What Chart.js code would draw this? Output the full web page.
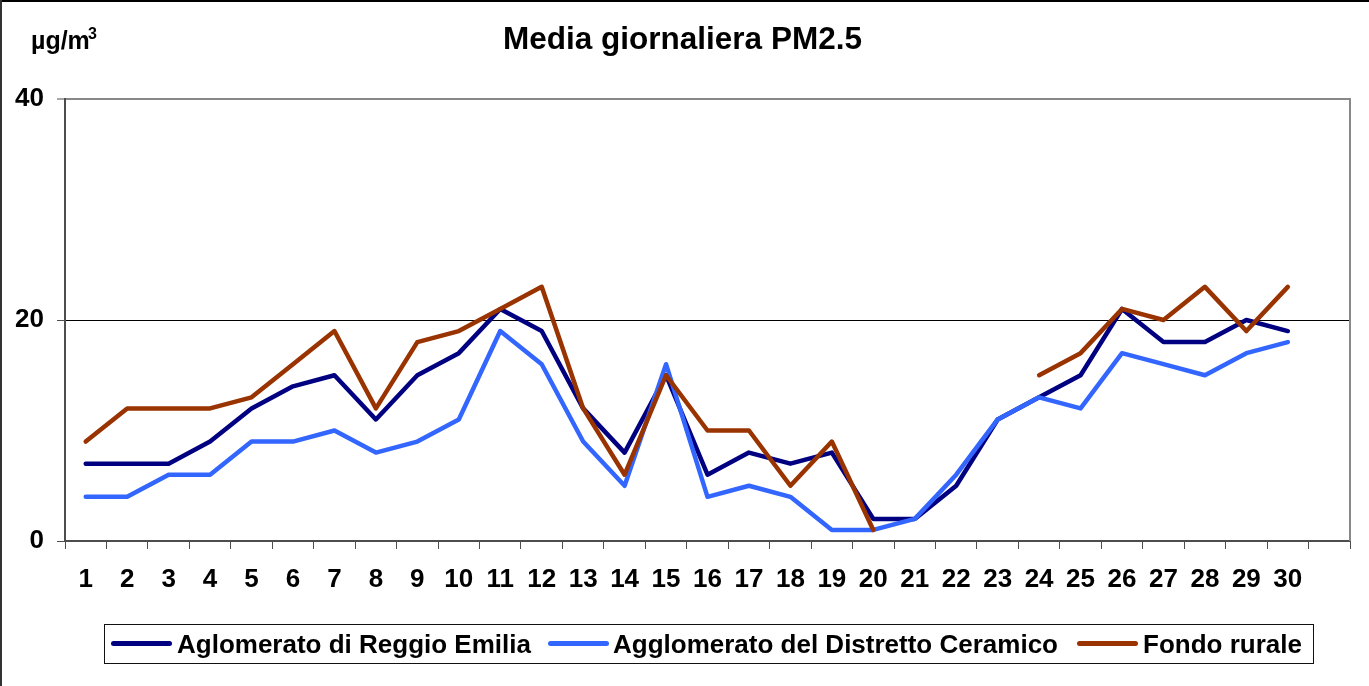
<!DOCTYPE html>
<html>
<head>
<meta charset="utf-8">
<script src="https://cdn.jsdelivr.net/npm/chart.js@4/dist/chart.umd.min.js"></script>
<style>
  html, body { margin: 0; padding: 0; background: #fff; }
  body { width: 1369px; height: 686px; position: relative; overflow: hidden; font-family: "Liberation Sans", Arial, sans-serif; }
  #c { position: absolute; left: 0; top: 0; }
  .txt { position: absolute; font-weight: bold; color: #000; white-space: nowrap; }
  .sample { position: absolute; height: 5px; border-radius: 2.5px; }
</style>
</head>
<body>
<canvas id="c" width="1369" height="686"></canvas>
<div style="position:absolute;left:0;top:0;width:1369px;height:2px;background:#000;"></div>
<div style="position:absolute;left:0;top:0;width:2px;height:686px;background:#333;"></div>
<div class="txt" id="title" style="left:0;width:1365px;text-align:center;top:22.6px;font-size:31.5px;line-height:31.5px;">Media giornaliera PM2.5</div>
<div class="txt" style="left:31px;top:28px;font-size:25px;line-height:25px;">µg/m</div>
<div class="txt" style="left:88px;top:26px;font-size:16px;line-height:16px;">3</div>
<div id="legend" style="position:absolute;left:104px;top:624px;width:1208px;height:38px;border:1px solid #111;"></div>
<div id="legendItems"></div>
<script>
// ---- data ----
const categories = ['1','2','3','4','5','6','7','8','9','10','11','12','13','14','15','16','17','18','19','20','21','22','23','24','25','26','27','28','29','30',''];
const seriesNames = ['Aglomerato di Reggio Emilia', 'Agglomerato del Distretto Ceramico', 'Fondo rurale'];
const reggio   = [7,7,7,9,12,14,15,11,15,17,21,19,12,8,15,6,8,7,8,2,2,5,11,13,15,21,18,18,20,19];
const ceramico = [4,4,6,6,9,9,10,8,9,11,19,16,9,5,16,4,5,4,1,1,2,6,11,13,12,17,16,15,17,18];
const rurale   = [9,12,12,12,13,16,19,12,18,19,21,23,12,6,15,10,10,5,9,1,null,null,null,15,17,21,20,23,19,23];
const yTicks = [0, 20, 40];
const colors = ['#000080', '#3366FF', '#993300'];

const FONT = '"Liberation Sans", Arial, sans-serif';

const framePlugin = {
  id: 'frame',
  beforeDatasetsDraw(chart) {
    const a = chart.chartArea, ctx = chart.ctx;
    ctx.save();
    ctx.strokeStyle = '#888';
    ctx.lineWidth = 2;
    ctx.beginPath();
    ctx.moveTo(a.right, a.top - 1);
    ctx.lineTo(a.right, a.bottom);
    ctx.stroke();
    ctx.restore();
  }
};

const datasets = [reggio, ceramico, rurale].map((d, i) => ({
  label: seriesNames[i],
  data: d,
  borderColor: colors[i],
  backgroundColor: colors[i],
  borderWidth: 4.5,
  pointRadius: 0,
  pointHoverRadius: 0,
  tension: 0,
  spanGaps: false,
  borderJoinStyle: 'round',
  borderCapStyle: 'round',
  fill: false,
  order: 2 - i
}));

new Chart(document.getElementById('c'), {
  type: 'line',
  data: { labels: categories, datasets },
  plugins: [framePlugin],
  options: {
    responsive: false,
    animation: false,
    events: [],
    layout: { padding: { left: 0, top: 99, right: 19, bottom: 85 } },
    plugins: { legend: { display: false }, title: { display: false }, tooltip: { enabled: false } },
    scales: {
      x: {
        type: 'category',
        offset: true,
        afterFit(s) { s.height = 60; },
        border: { display: true, color: '#4d4d4d', width: 2 },
        grid: { offset: true, drawOnChartArea: false, drawTicks: true, tickLength: 8, tickColor: '#4d4d4d', tickWidth: 1 },
        ticks: { autoSkip: false, maxRotation: 0, color: '#000', padding: 15, font: { family: FONT, size: 26, weight: 'bold' } }
      },
      y: {
        min: 0, max: 40,
        afterFit(s) { s.width = 65; },
        afterBuildTicks(s) { s.ticks = yTicks.map(v => ({ value: v })); },
        border: { display: true, color: '#4d4d4d', width: 2 },
        grid: {
          drawOnChartArea: true, drawTicks: true, tickLength: 8, tickColor: '#4d4d4d', tickWidth: 1,
          color: (c) => c.tick && c.tick.value === 20 ? '#000' : (c.tick && c.tick.value === 40 ? '#888' : 'rgba(0,0,0,0)'),
          lineWidth: (c) => c.tick && c.tick.value === 40 ? 2 : 1
        },
        ticks: { color: '#000', padding: 13, font: { family: FONT, size: 26, weight: 'bold' } }
      }
    }
  }
});

// HTML legend (box + samples + labels)
const legendPos = [ {s: 111, t: 177}, {s: 548, t: 613}, {s: 1077, t: 1143} ];
const li = document.getElementById('legendItems');
seriesNames.forEach((n, i) => {
  const s = document.createElement('div');
  s.className = 'sample';
  s.style.cssText = `left:${legendPos[i].s}px;top:641px;width:61px;background:${colors[i]};`;
  li.appendChild(s);
  const t = document.createElement('div');
  t.className = 'txt';
  t.style.cssText = `left:${legendPos[i].t}px;top:631px;font-size:26px;line-height:26px;`;
  t.textContent = n;
  li.appendChild(t);
});
</script>
</body>
</html>
